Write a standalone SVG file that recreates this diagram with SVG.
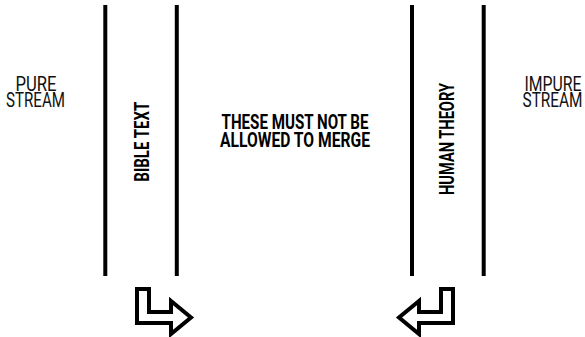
<svg xmlns="http://www.w3.org/2000/svg" width="585" height="337" viewBox="0 0 585 337">
<style>
.bg{fill:#ffffff}
.line{stroke:#000;stroke-width:4;fill:none}
.lbl{font-family:Roboto,"Liberation Sans",sans-serif;font-size:20.5px;fill:#111;text-anchor:middle}
.bold{font-family:Roboto,"Liberation Sans",sans-serif;font-size:21px;font-weight:bold;fill:#000;text-anchor:middle}
.arrow{fill:#fff;stroke:#000;stroke-width:4;stroke-linejoin:miter}
</style>
<defs>
<path id="bentArrow" class="arrow" d="M137,289 L149,289 L149,312 L171,312 L171,301 L191,317.5 L171,334 L171,323 L137,323 Z"/>
</defs>
<rect class="bg" x="0" y="0" width="585" height="337"/>
<g id="pure-stream">
<text class="lbl" x="36" y="90.5" textLength="41" lengthAdjust="spacingAndGlyphs">PURE</text>
<text class="lbl" x="35.5" y="107" textLength="59" lengthAdjust="spacingAndGlyphs">STREAM</text>
</g>
<g id="impure-stream">
<text class="lbl" x="553" y="90.5" textLength="57" lengthAdjust="spacingAndGlyphs">IMPURE</text>
<text class="lbl" x="552.5" y="107" textLength="60" lengthAdjust="spacingAndGlyphs">STREAM</text>
</g>
<g id="bible-text">
<line class="line" x1="105.3" y1="5" x2="105.3" y2="276"/>
<line class="line" x1="176.8" y1="5" x2="176.8" y2="276"/>
<text class="bold" transform="translate(148.5,141.7) rotate(-90)" textLength="80" lengthAdjust="spacingAndGlyphs">BIBLE TEXT</text>
</g>
<g id="human-theory">
<line class="line" x1="412" y1="5" x2="412" y2="276"/>
<line class="line" x1="483.7" y1="5" x2="483.7" y2="276"/>
<text class="bold" transform="translate(453.5,139) rotate(-90)" textLength="112" lengthAdjust="spacingAndGlyphs">HUMAN THEORY</text>
</g>
<g id="warning">
<text class="bold" x="295" y="129" textLength="147" lengthAdjust="spacingAndGlyphs">THESE MUST NOT BE</text>
<text class="bold" x="295" y="147.3" textLength="150" lengthAdjust="spacingAndGlyphs">ALLOWED TO MERGE</text>
</g>
<g id="connectors">
<use href="#bentArrow"/>
<use href="#bentArrow" transform="translate(590,0) scale(-1,1)"/>
</g>
</svg>
